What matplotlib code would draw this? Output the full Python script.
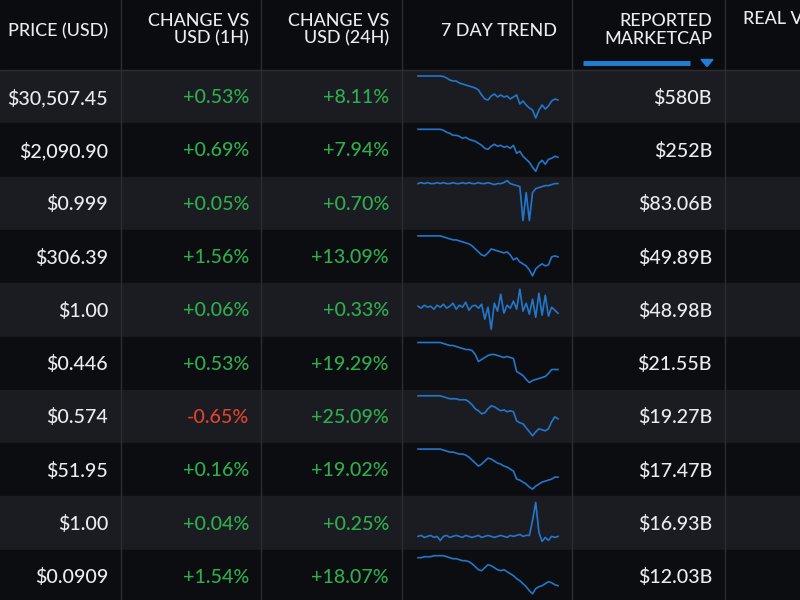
import matplotlib
matplotlib.use("Agg")
import matplotlib.pyplot as plt
from matplotlib.patches import Rectangle, Polygon

# ---------------- data ----------------
prices = ["$30,507.45", "$2,090.90", "$0.999", "$306.39", "$1.00",
          "$0.446", "$0.574", "$51.95", "$1.00", "$0.0909"]
change_1h = [0.53, 0.69, 0.05, 1.56, 0.06, 0.53, -0.65, 0.16, 0.04, 1.54]
change_24h = [8.11, 7.94, 0.70, 13.09, 0.33, 19.29, 25.09, 19.02, 0.25, 18.07]
marketcap = ["$580B", "$252B", "$83.06B", "$49.89B", "$48.98B",
             "$21.55B", "$19.27B", "$17.47B", "$16.93B", "$12.03B"]
headers = ["PRICE (USD)", "CHANGE VS\nUSD (1H)", "CHANGE VS\nUSD (24H)",
           "7 DAY TREND", "REPORTED\nMARKETCAP", "REAL VOLUME"]

# 7-day trend levels (estimated, 45 samples each, higher = higher price)
trend_offsets = [
    [0,0,0,0,0,0,0,0,0.5,2,4,5,5,7,8,9,10,11,12,14,19,23,24,20,18,21,19,21,20,23,21,19,28,25,29,32,34,42,34,29,33,30,25,23,24],
    [0,0,0,0,0,0,0,0,1,3,4,6,6,7,9,8,10,11,12,14,16,19,20,17,15,17,16,18,17,19,16,24,22,27,30,33,38,42,34,31,35,30,29,27,28],
    [1,0,1,0,1,1,0,1,0,1,1,0,1,1,0,1,0,1,1,0,1,1,0,1,2,1,1,0,-2,1,2,3,4,38,10,38,10,6,5,4,3,3,2,1,1],
    [0,0,0,0,0,0,0,0,1,2,3,4,4,5,6,7,8,10,13,16,19,20,17,13,14,15,16,17,16,19,24,22,26,28,30,34,40,33,30,28,30,29,21,20,21],
    [17,19,16,18,17,20,16,18,15,19,17,14,20,16,18,13,21,17,16,19,15,30,18,40,14,22,5,24,16,19,12,20,0,22,14,25,10,28,4,26,6,27,18,21,24],
    [0,0,0,0,0,0,0,0,1,2,3,3,4,5,6,7,7,8,12,19,17,15,13,12,12,13,14,15,14,15,16,29,31,33,37,40,38,37,36,35,34,31,27,27,27],
    [0,0,0,0,0,0,0,0,1,2,3,3,3,4,4,4,6,9,13,15,18,17,13,10,11,13,15,14,16,15,16,25,27,28,32,36,40,36,33,34,35,33,26,21,23],
    [0,0,0,0,0,0,0,0,1,2,3,3,4,5,5,6,8,11,14,17,15,12,9,10,12,14,15,17,18,20,22,30,31,33,35,38,40,37,35,33,32,31,30,28,28],
    [34,33,35,34,33,35,34,38,34,33,35,34,33,34,35,33,34,35,34,33,35,34,33,34,35,34,33,34,35,33,34,33,32,34,33,33,18,0,30,39,35,38,34,35,34],
    [2,2,1,1,1,0,0,0,0,1,2,3,3,4,5,5,6,8,11,14,15,12,9,10,12,14,15,14,16,18,20,23,25,28,31,35,38,33,31,30,28,26,27,29,30],
]
trends = [[40 - v for v in row] for row in trend_offsets]

# ---------------- style ----------------
BG_HEAD = "#0b0c0f"
BG_LIGHT = "#1b1c21"
BG_DARK = "#0c0d10"
GRID = "#2c2d33"
WHITE = "#ececef"
GREEN = "#2fae4e"
RED = "#e2432b"
BLUE = "#1f7fd4"
LINE = "#2277cc"
FONT = "Lato"
WEIGHT = "medium"

W, H = 800, 600
fig = plt.figure(figsize=(8, 6), dpi=100)
fig.patch.set_facecolor(BG_HEAD)
ax = fig.add_axes([0, 0, 1, 1])
ax.set_xlim(0, W)
ax.set_ylim(H, 0)
ax.axis("off")

head_h = 70
row_h = 53.3
col_lines = [121, 261, 402, 572, 725]

# backgrounds
ax.add_patch(Rectangle((0, 0), W, head_h, color=BG_HEAD, zorder=0))
for i in range(len(prices)):
    top = head_h + i * row_h
    ax.add_patch(Rectangle((0, top), W, row_h,
                           color=BG_LIGHT if i % 2 == 0 else BG_DARK, zorder=0))

# grid lines
for x in col_lines:
    ax.plot([x, x], [0, H], color=GRID, lw=1, zorder=1)
ax.plot([0, W], [head_h, head_h], color=GRID, lw=1, zorder=1)

# headers
hfs = 12.9
kw = dict(color=WHITE, fontsize=hfs, family=FONT, fontweight=WEIGHT, va="center")
ax.text(108, 31, headers[0], ha="right", **kw)
ax.text(249, 30, headers[1], ha="right", linespacing=1.1, **kw)
ax.text(389, 30, headers[2], ha="right", linespacing=1.1, **kw)
ax.text(557, 31, headers[3], ha="right", **kw)
ax.text(712, 30, headers[4], ha="right", linespacing=1.1, **kw)
ax.text(743, 19, headers[5], ha="left", **kw)

# sort indicator
ax.plot([583, 690], [62.5, 62.5], color=BLUE, lw=3.5, solid_capstyle="butt", zorder=3)
ax.add_patch(Polygon([[701, 59.5], [713, 59.5], [707, 66.5]], closed=True, color=BLUE, zorder=3))

# rows
fs = 14.1
for i in range(len(prices)):
    cy = head_h + i * row_h + row_h / 2 + 1
    rk = dict(ha="right", va="center", fontsize=fs, family=FONT, fontweight=WEIGHT)
    ax.text(108, cy, prices[i], color=WHITE, **rk)
    c1 = change_1h[i]
    ax.text(249, cy, f"{c1:+.2f}%", color=GREEN if c1 >= 0 else RED, **rk)
    c24 = change_24h[i]
    ax.text(389, cy, f"{c24:+.2f}%", color=GREEN if c24 >= 0 else RED, **rk)
    ax.text(712, cy, marketcap[i], color=WHITE, **rk)

    # sparkline
    top = head_h + i * row_h + 6
    sax = fig.add_axes([418 / W, 1 - (top + 40) / H, 140 / W, 40 / H])
    sax.plot(range(len(trends[i])), trends[i], color=LINE, lw=1.2, clip_on=False)
    sax.set_xlim(0, len(trends[i]) - 1)
    sax.set_ylim(0, 40)
    sax.axis("off")

fig.savefig("out.png", dpi=100, facecolor=fig.get_facecolor())
